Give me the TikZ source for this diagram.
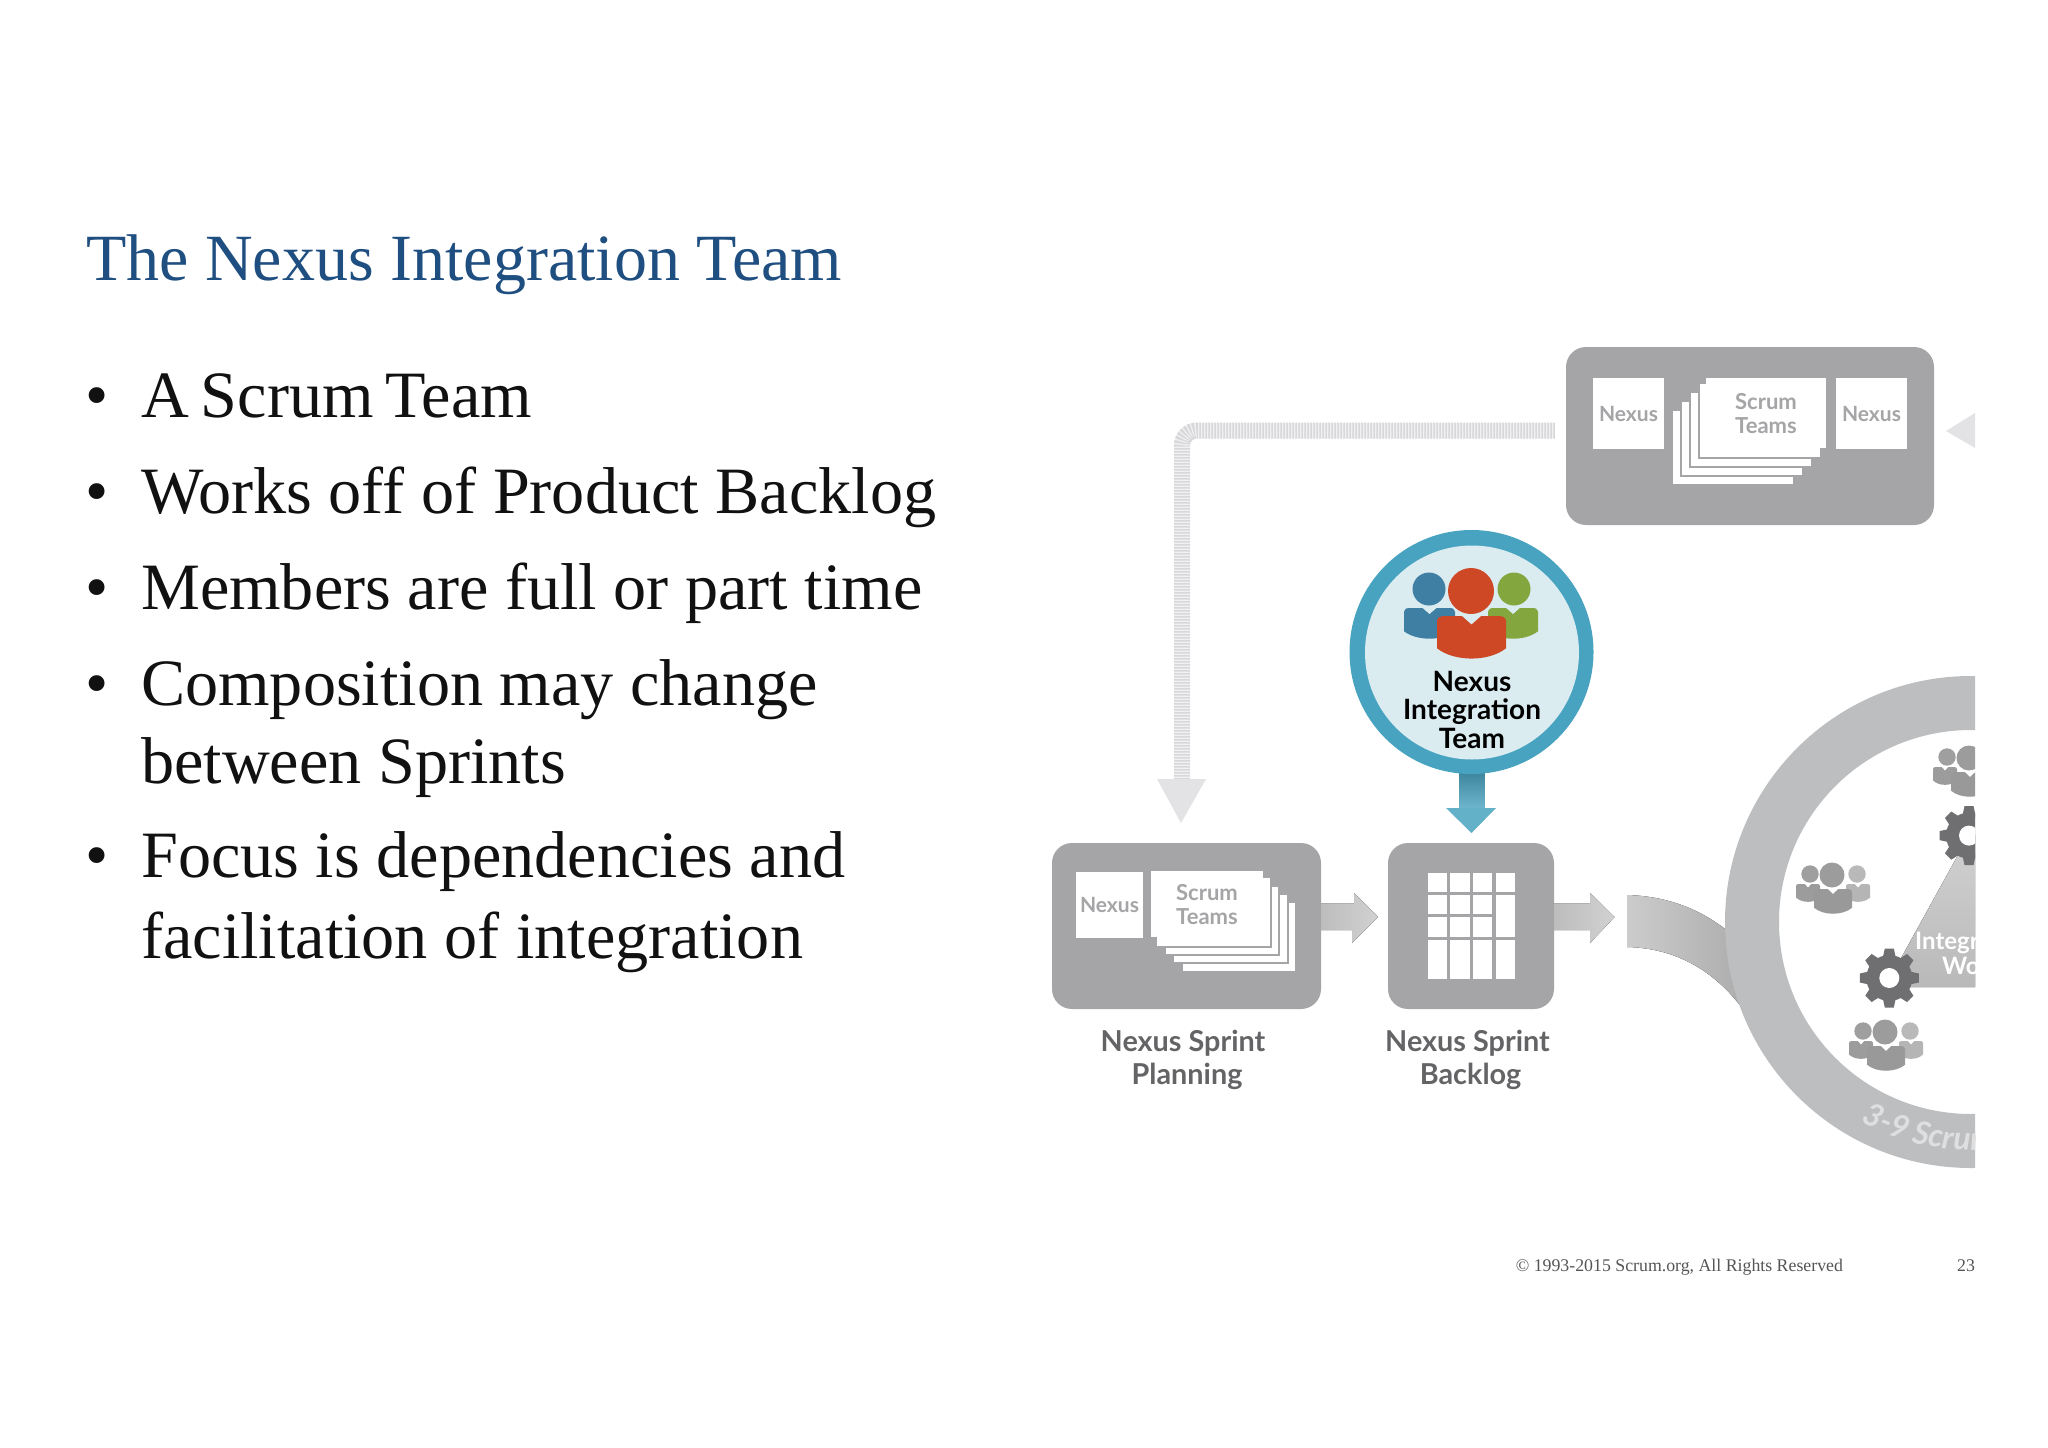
\documentclass[tikz,border=0pt]{standalone}
\usepackage{fontspec}
\usetikzlibrary{calc,decorations.text}
\setmainfont{Liberation Serif}
\newfontfamily\lato{Lato}
\definecolor{boxgrey}{HTML}{A5A4A6}
\definecolor{titleblue}{HTML}{1F4E80}
\definecolor{bodyblack}{HTML}{111111}
\definecolor{footgrey}{HTML}{555555}
\definecolor{labelgrey}{HTML}{646366}
\definecolor{teal}{HTML}{48A3C0}
\definecolor{tealpale}{HTML}{DBECF1}
\definecolor{hatchA}{HTML}{F1F1F2}
\definecolor{hatchB}{HTML}{D8D8DB}
\definecolor{palehead}{HTML}{E3E3E5}
\definecolor{ringgrey}{HTML}{BCBEC0}
\definecolor{gearcol}{HTML}{6F6F72}
\definecolor{nitblue}{HTML}{3F7FA3}
\definecolor{nitgreen}{HTML}{84A63F}
\definecolor{nitred}{HTML}{CF4826}
\newcommand{\bodyshape}[5]{\fill[#5,shift={(#1,#2)},xscale=#3,yscale=#4]
  (-0.5,0.12) .. controls (-0.5,0.03) and (-0.45,0) .. (-0.38,0) -- (-0.14,0) -- (0,0.2) -- (0.14,0) -- (0.38,0)
  .. controls (.45,0) and (.5,.03) .. (.5,.12) -- (.5,.75) .. controls (.25,1.07) and (-.25,1.07) .. (-.5,.75) -- cycle;}
\newcommand{\greypeople}[2]{\begin{scope}[shift={(#1,#2)}]
  \fill[gray!75] (1810,874) circle[radius=8.7];
  \fill[gray!55] (1857,874) circle[radius=8.7];
  \bodyshape{1808}{884}{24}{18}{gray!78}
  \bodyshape{1858}{884}{24}{18}{gray!58}
  \fill[gray!78] (1832,875) circle[radius=12.5];
  \bodyshape{1833}{889}{38}{25}{gray!80}
\end{scope}}
\newcommand{\gear}[2]{\begin{scope}[shift={(#1,#2)}]
  \fill[gearcol] (0,0) circle[radius=23];
  \foreach \a in {0,45,...,315}{\fill[gearcol,rotate=\a] (-7,-18)--(-4.5,-29.5)--(4.5,-29.5)--(7,-18)--cycle;}
  \fill[white] (0,0) circle[radius=10];
\end{scope}}
\newcommand{\sheet}[5][boxgrey]{\filldraw[fill=white,draw=#1,line width=2.6] (#2,#3) rectangle (#4,#5);}
\newcommand{\cardbig}{\fontsize{22}{24}\selectfont}
\tikzset{
  greybox/.style={fill=boxgrey,rounded corners=20,inner sep=0,draw=none},
  whitecard/.style={fill=white,inner sep=0,draw=none,text=boxgrey,align=center,font=\lato\bfseries\fontsize{21}{24}\selectfont},
  titletext/.style={anchor=base west,inner sep=0,text=titleblue,font=\fontsize{66}{66}\selectfont},
  bullettext/.style={anchor=base west,inner sep=0,text=bodyblack,font=\fontsize{66.2}{66}\selectfont},
  foottext/.style={anchor=base west,inner sep=0,text=footgrey,font=\fontsize{17.8}{17.8}\selectfont},
  steplabel/.style={inner sep=0,text=labelgrey,align=center,font=\lato\bfseries\fontsize{28.8}{32.5}\selectfont},
  hatchline/.style={line width=16,rounded corners=15},
  fatarrow/.style={left color=gray!52,right color=gray!36,draw=none},
  whitetext/.style={inner sep=0,anchor=base west,text=white,font=\lato\bfseries\fontsize{24}{24}\selectfont}
}
\begin{document}
\begin{tikzpicture}[x=1pt,y=-1pt]
\useasboundingbox (0,0) rectangle (2048,1448);
\fill[white] (0,0) rectangle (2048,1448);

% left text
\node[titletext] (title) at (86,280) {The Nexus Integration Team};
\foreach \n/\by in {b1/417.5,b2/513,b3/609.5,b4/705,b5/877.5}{\node[bullettext] (\n) at (85,\by) {•};}
\node[bullettext] (l1) at (141,417.5) {\spaceskip=12pt A Scrum Team};
\node[bullettext] (l2) at (141,513) {Works off of Product Backlog};
\node[bullettext] (l3) at (141,609.5) {Members are full or part time};
\node[bullettext] (l4) at (141,705) {Composition may change};
\node[bullettext] (l5) at (141,783.5) {between Sprints};
\node[bullettext] (l6) at (141,877.5) {Focus is dependencies and};
\node[bullettext] (l7) at (141,958.5) {facilitation of integration};

% footer
\node[foottext] (foot) at (1515.6,1271) {© 1993-2015 Scrum.org, All Rights Reserved};
\node[foottext] (pagenum) at (1957,1271) {23};

% top box
\node[greybox,minimum width=368,minimum height=178] (topbox) at (1750,436) {};
\sheet{1672}{410}{1794}{485}
\sheet{1681}{401}{1803}{476}
\sheet{1690}{392}{1812}{467}
\sheet{1699}{383}{1821}{458}
\node[whitecard,minimum width=71,minimum height=71] (tn1) at (1628.5,413.5) {Nexus};
\node[whitecard,minimum width=120,minimum height=70] (tst) at (1766,413) {\cardbig\rule{0pt}{18pt}Scrum\\\cardbig Teams};
\node[whitecard,minimum width=71,minimum height=71] (tn2) at (1871.5,413.5) {Nexus};

% planning box
\node[greybox,minimum width=269,minimum height=166] (plan) at (1186.5,926) {};
\sheet{1182}{902}{1296}{972}
\sheet{1173}{894}{1288}{963}
\sheet{1165}{886}{1279}{955}
\sheet{1156}{877}{1271}{947}
\node[whitecard,minimum width=67,minimum height=66] (pn) at (1109.5,905) {Nexus};
\node[whitecard,minimum width=112,minimum height=66] (pst) at (1207,904) {\cardbig\rule{0pt}{18pt}Scrum\\\cardbig Teams};

% backlog box
\node[greybox,minimum width=166,minimum height=166] (back) at (1471,926) {};
\foreach \cx in {1427.5,1450,1472.5,1495.5}{
  \foreach \ry/\rh in {873/19,895/19,917/20,940/39}{
    \fill[white] (\cx,\ry) rectangle ++(19.5,\rh);
  }
}
\fill[white] (1495.5,912) rectangle (1515,919);

\node[steplabel] (pl) at (1183,1060) {Nexus Sprint\\\hspace*{8pt}Planning};
\node[steplabel] (bl) at (1467.5,1060) {Nexus Sprint\\\hspace*{6pt}Backlog};

% fat arrows
\coordinate (a1) at (plan.east |- 0,917);
\coordinate (a2) at (back.east |- 0,917);
\fill[fatarrow] (a1) ++(0,-13.5) -- ++(33,0) -- ++(0,-10.5) -- (1378,917) -- (1352,943) -- ++(0,-13) -- ++(-31,0) -- cycle;
\fill[fatarrow] (a2) ++(0,-13.5) -- ++(36,0) -- ++(0,-10.5) -- (1614.5,917) -- (1590,943) -- ++(0,-13) -- ++(-36,0) -- cycle;

% hatched connector
\coordinate (h1) at (topbox.west |- 0,430.5);
\coordinate (h1s) at ($(h1)+(-11,0)$);
\coordinate (h2) at (1182,779);
\draw[hatchline,hatchA] (h1s) -| (h2);
\draw[hatchline,hatchB,dash pattern=on 1.5pt off 1.5pt] (h1s) -| (h2);
\fill[palehead] (h2) ++(-25,0) -- ++(49,0) -- (1181,823) -- cycle;

% teal arrow
\fill[top color=teal!80!black,bottom color=teal!80!white] (1459,770) rectangle (1484.5,808);
\fill[teal!85!white] (1446,808) -- (1496,808) -- (1471.5,833) -- cycle;

% Nexus integration team circle
\node[circle,minimum size=244,inner sep=0,fill=teal] (nitouter) at (1471.5,652) {};
\node[circle,minimum size=214,inner sep=0,fill=tealpale] (nitinner) at (1472,652.5) {};
\fill[nitblue] (1429,589) circle[radius=16.5];
\fill[nitgreen] (1514,589) circle[radius=16.5];
\bodyshape{1429.5}{608}{51}{31}{nitblue}
\bodyshape{1513}{608}{50}{31}{nitgreen}
\fill[nitred] (1471,591) circle[radius=23];
\bodyshape{1471.5}{616}{69}{43}{nitred}
\node[inner sep=0,align=center,text=black,font=\lato\bfseries\fontsize{28}{28.5}\selectfont] (nittext) at (1472,709.5) {Nexus\\Integration\\Team};

% right part: clipped at the slide margin
\begin{scope}
\clip (0,0) rectangle (1975,1448);
\fill[palehead] (1946,431) -- (1975,413) -- (1975,448) -- cycle;
% band
\fill[left color=gray!40,right color=gray!65]
  (1627,895) .. controls (1665,896) and (1700,908) .. (1730,933)
  -- (1745,1012) .. controls (1715,970) and (1675,948) .. (1627,947) -- cycle;
% triangle
\fill[top color=gray!36,bottom color=gray!55] (1969,835) -- (1889,980) -- (1889,987) -- (1975,987) -- (1975,835) -- cycle;
% ring
\fill[ringgrey,even odd rule] (1971,922) circle[radius=246] (1971,922) circle[radius=192];
\path[decorate,decoration={text along path,text align={left indent=0pt},
   text={|\lato\bfseries\itshape\fontsize{32}{32}\selectfont\color{gray!25}|3-9 Scrum}}]
   (1971,922) ++(119:228) arc[start angle=119,end angle=60,radius=228];
\greypeople{0}{0}
\greypeople{53}{157}
\greypeople{137}{-117}
\gear{1889.3}{978}
\gear{1969}{835.6}
\node[whitetext] (int1) at (1915,949) {Integr};
\node[whitetext] (int2) at (1942,974) {Wo};
\end{scope}
\end{tikzpicture}
\end{document}
